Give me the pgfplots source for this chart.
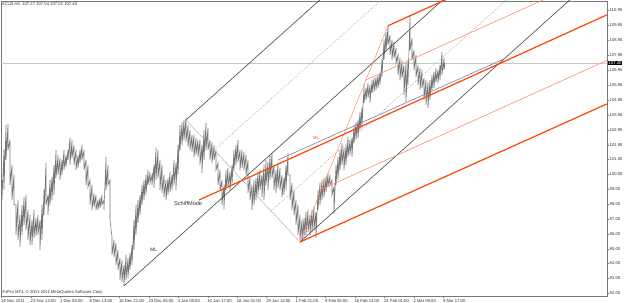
\documentclass[border=0pt]{standalone}
\usepackage{fontspec}
\setmainfont{Liberation Sans}
\usepackage{pgfplots}
\pgfplotsset{compat=1.18}
\definecolor{pricegray}{RGB}{118,118,118}
\definecolor{forkgray}{RGB}{70,70,70}
\definecolor{schiff}{RGB}{255,69,0}
\definecolor{schifflight}{RGB}{255,140,105}
\definecolor{mlblue}{RGB}{105,105,175}
\definecolor{dotgray}{RGB}{165,165,165}
\definecolor{framegray}{RGB}{120,120,120}
\definecolor{lightline}{RGB}{200,200,200}
\definecolor{txt}{RGB}{50,50,50}
\newcommand{\mtfont}{\fontsize{4.2}{5}\selectfont}
\begin{document}
\begin{tikzpicture}
\useasboundingbox (-1pt,-7pt) rectangle (624pt,296pt);
\begin{axis}[
 at={(0,0)}, anchor=south west,
 width=606pt, height=295pt, scale only axis,
 xmin=1, xmax=607, ymin=91.88, ymax=111.55,
 clip mode=individual,
 axis line style={framegray, line width=0.6pt},
 tick align=outside, xtick pos=lower, ytick pos=right,
 major tick length=2pt,
 tick style={framegray, line width=0.4pt},
 xtick={1.5,31,60.4,89.9,119.3,148.8,178.2,207.7,237.1,266.6,296,325.5,354.9,384.4,413.8,443.3},
 xticklabels={16 Nov 2011,23 Nov 13:00,1 Dec 05:00,8 Dec 13:00,15 Dec 21:00,23 Dec 05:00,3 Jan 09:00,10 Jan 17:00,18 Jan 01:00,25 Jan 13:00,1 Feb 21:00,9 Feb 05:00,16 Feb 13:00,24 Feb 01:00,2 Mar 09:00,9 Mar 17:00},
 xticklabel style={anchor=north west, inner sep=0pt, xshift=-0.5pt, yshift=-1pt, font=\mtfont, text=txt},
 ytick={110.95,109.95,108.95,107.95,106.95,105.95,104.95,103.95,102.95,101.95,101.00,100.00,99.00,98.00,97.00,96.00,95.00,94.05,93.05,92.05},
 yticklabel pos=right,
 yticklabel style={anchor=west, inner sep=0pt, xshift=0.5pt, font=\mtfont, text=txt,
   /pgf/number format/fixed, /pgf/number format/fixed zerofill, /pgf/number format/precision=2},
 /pgf/number format/assume math mode=true,
]
% current price line
\addplot[lightline, line width=0.4pt] coordinates {(1,107.40) (607,107.40)};
% price bars (high, low per column)
\addplot[pricegray, line width=0.55pt] coordinates {
(2,99.62) (2,98.28) (4,101.62) (4,98.95) (6,103.28) (6,100.95) (8,103.35) (8,101.62)
(10,102.28) (10,99.28) (12,100.62) (12,98.28) (14,99.95) (14,97.95) (16,97.95) (16,95.95)
(18,98.28) (18,95.62) (20,97.28) (20,95.15) (22,97.95) (22,95.95) (24,98.48) (24,96.62)
(26,98.62) (26,96.28) (28,97.62) (28,95.62) (30,97.28) (30,95.28) (32,96.95) (32,95.28)
(34,97.62) (34,95.75) (36,97.08) (36,95.88) (38,97.28) (38,95.95) (40,96.95) (40,94.95)
(42,97.95) (42,95.62) (44,98.95) (44,97.28) (46,100.75) (46,97.95) (48,98.62) (48,97.28)
(50,99.62) (50,97.95) (52,99.82) (52,98.28) (54,100.62) (54,98.62) (56,101.62) (56,99.75)
(58,101.28) (58,99.95) (60,101.08) (60,99.62) (62,100.95) (62,99.95) (64,101.62) (64,100.28)
(66,101.28) (66,100.48) (68,101.62) (68,100.95) (70,102.42) (70,100.62) (72,102.28) (72,101.08)
(74,101.95) (74,100.62) (76,101.62) (76,100.28) (78,101.28) (78,100.42) (80,101.62) (80,100.75)
(82,101.95) (82,100.95) (84,101.62) (84,100.28) (86,100.95) (86,99.28) (88,100.62) (88,99.15)
(90,99.62) (90,97.95) (92,99.28) (92,97.62) (94,98.75) (94,97.82) (96,98.62) (96,97.62)
(98,98.28) (98,97.62) (100,98.42) (100,97.75) (102,98.62) (102,97.95) (104,98.28) (104,97.62)
(106,101.15) (106,98.95) (108,100.62) (108,99.28) (110,99.62) (110,96.95) (112,95.82) (112,94.62)
(114,95.62) (114,94.48) (116,95.42) (116,93.95) (118,94.95) (118,93.62) (120,94.42) (120,92.95)
(122,94.28) (122,92.82) (124,93.95) (124,92.55) (126,94.62) (126,92.95) (128,94.42) (128,93.08)
(130,94.75) (130,93.62) (132,95.28) (132,93.95) (134,96.95) (134,94.95) (136,97.95) (136,95.95)
(138,98.28) (138,96.75) (140,98.62) (140,97.28) (142,99.28) (142,97.95) (144,99.62) (144,98.28)
(146,99.95) (146,98.62) (148,100.28) (148,99.28) (150,100.15) (150,99.42) (152,99.95) (152,99.28)
(154,100.62) (154,99.08) (156,101.75) (156,99.62) (158,101.62) (158,99.75) (160,100.95) (160,98.95)
(162,100.62) (162,98.75) (164,99.95) (164,98.48) (166,99.62) (166,98.28) (168,99.75) (168,98.62)
(170,100.15) (170,98.82) (172,99.95) (172,98.95) (174,100.95) (174,99.28) (176,100.75) (176,98.95)
(178,101.95) (178,99.95) (180,103.28) (180,101.62) (182,103.48) (182,101.95) (184,103.62) (184,102.28)
(186,103.75) (186,102.15) (188,103.28) (188,101.82) (190,102.95) (190,101.62) (192,102.62) (192,101.48)
(194,102.62) (194,101.15) (196,102.42) (196,101.28) (198,102.28) (198,101.15) (200,102.28) (200,100.62)
(202,101.95) (202,100.08) (204,102.95) (204,100.95) (206,103.42) (206,101.62) (208,103.08) (208,101.62)
(210,102.28) (210,100.95) (212,102.15) (212,100.75) (214,101.95) (214,100.95) (216,101.62) (216,100.28)
(218,100.75) (218,99.28) (220,100.28) (220,98.95) (222,99.62) (222,97.95) (224,99.28) (224,97.68)
(226,100.28) (226,98.95) (228,100.42) (228,99.08) (230,100.15) (230,98.95) (232,100.62) (232,99.28)
(234,101.62) (234,100.28) (236,101.95) (236,100.62) (238,102.28) (238,100.82) (240,101.62) (240,100.28)
(242,101.62) (242,100.42) (244,101.48) (244,100.28) (246,101.28) (246,99.95) (248,100.95) (248,98.75)
(250,99.82) (250,98.28) (252,99.28) (252,97.62) (254,99.62) (254,97.95) (256,99.75) (256,98.28)
(258,100.15) (258,98.62) (260,100.28) (260,98.95) (262,99.95) (262,98.48) (264,100.62) (264,98.28)
(266,100.95) (266,99.28) (268,100.82) (268,98.95) (270,101.28) (270,99.62) (272,101.42) (272,99.75)
(274,100.62) (274,98.95) (276,100.28) (276,98.75) (278,100.75) (278,99.08) (280,100.42) (280,98.95)
(282,99.95) (282,98.48) (284,99.75) (284,98.62) (286,100.62) (286,98.95) (288,101.42) (288,99.95)
(290,99.95) (290,98.28) (292,99.42) (292,97.62) (294,98.95) (294,97.28) (296,98.28) (296,96.62)
(298,97.95) (298,95.95) (300,97.28) (300,95.62) (302,96.95) (302,95.48) (304,97.08) (304,95.75)
(306,97.48) (306,95.95) (308,97.62) (308,96.15) (310,97.28) (310,95.95) (312,97.62) (312,96.15)
(314,97.82) (314,96.28) (316,97.48) (316,95.75) (318,98.95) (318,97.62) (320,99.42) (320,97.95)
(322,99.62) (322,98.28) (324,99.75) (324,98.48) (326,99.82) (326,98.82) (328,100.08) (328,99.15)
(330,99.95) (330,99.28) (332,99.62) (332,98.62) (334,99.15) (334,97.35) (336,100.62) (336,99.28)
(338,101.15) (338,99.62) (340,101.62) (340,100.28) (342,102.08) (342,100.62) (344,101.75) (344,100.28)
(346,101.95) (346,100.62) (348,102.48) (348,101.15) (350,102.28) (350,101.28) (352,102.42) (352,101.15)
(354,103.28) (354,102.08) (356,103.48) (356,102.28) (358,103.62) (358,102.42) (360,104.15) (360,102.95)
(362,104.42) (362,103.08) (364,105.95) (364,104.75) (366,105.75) (366,104.95) (368,106.08) (368,105.08)
(370,105.95) (370,104.75) (372,106.28) (372,105.42) (374,106.42) (374,105.48) (376,106.48) (376,105.62)
(378,106.62) (378,105.75) (380,106.75) (380,105.95) (382,107.62) (382,106.48) (384,108.95) (384,107.62)
(386,109.48) (386,108.15) (388,109.88) (388,108.62) (390,109.28) (390,107.95) (392,108.95) (392,107.62)
(394,108.82) (394,107.75) (396,108.42) (396,107.42) (398,107.95) (398,106.62) (400,107.75) (400,106.28)
(402,107.62) (402,106.42) (404,107.28) (404,105.28) (406,107.42) (406,104.82) (408,107.62) (408,105.95)
(410,110.62) (410,108.28) (412,109.08) (412,107.62) (414,108.28) (414,106.95) (416,107.95) (416,106.48)
(418,107.28) (418,105.95) (420,107.08) (420,105.62) (422,106.95) (422,105.75) (424,106.42) (424,104.95)
(426,106.28) (426,104.62) (428,106.15) (428,104.42) (430,106.28) (430,104.95) (432,106.62) (432,105.62)
(434,106.82) (434,105.75) (436,107.08) (436,106.15) (438,106.95) (438,106.08) (440,107.28) (440,106.28)
(442,108.15) (442,106.62) (444,107.75) (444,106.95) (445,107.40)
};
% Andrews pitchfork (gray)
\addplot[forkgray, line width=0.6pt] coordinates {(124,92.55) (460,112.65)};
\addplot[forkgray, line width=0.6pt] coordinates {(186,103.62) (330,112.23)};
\addplot[forkgray, line width=0.6pt] coordinates {(300,95.48) (580,112.23)};
\addplot[dotgray, line width=0.5pt, dash pattern=on 1pt off 1.2pt] coordinates {(214,101.61) (390,112.14)};
\addplot[dotgray, line width=0.5pt, dash pattern=on 1pt off 1.2pt] coordinates {(271,97.54) (520,112.43)};
\addplot[dotgray, line width=0.4pt] coordinates {(186,103.62) (300,95.48)};
% Schiff modified pitchfork (orange)
\addplot[schifflight, line width=0.5pt] coordinates {(300,95.48) (388,109.90)};
\addplot[schifflight, line width=0.6pt] coordinates {(365.7,106.28) (560,112.13)};
\addplot[schifflight, line width=0.6pt] coordinates {(321.3,98.99) (607,107.59)};
\addplot[mlblue, line width=0.5pt] coordinates {(278,100.95) (505,107.72)};
\addplot[schiff, line width=1.2pt] coordinates {(199,98.28) (607,110.63)};
\addplot[schiff, line width=1.2pt] coordinates {(300,95.48) (607,104.69)};
\addplot[schiff, line width=1.2pt] coordinates {(388,109.90) (450,111.77)};
% texts
\node[anchor=west, inner sep=0pt, font=\mtfont, text=txt] at (axis cs:2,111.30) {\#CL2I,H4\ \ 107.27 107.54 107.01 107.40};
\node[anchor=west, inner sep=0pt, font=\mtfont, text=txt] at (axis cs:2.5,92.15) {FxPro MT4, © 2001-2011 MetaQuotes Software Corp.};
\node[anchor=west, inner sep=0pt, font=\fontsize{5.6}{6}\selectfont, text=txt] at (axis cs:174,98.02) {SchiffMode};
\node[anchor=west, inner sep=0pt, font=\fontsize{5}{6}\selectfont, text=txt] at (axis cs:150,94.95) {ML};
\node[anchor=west, inner sep=0pt, font=\fontsize{4.2}{5}\selectfont, text=schiff] at (axis cs:313,102.42) {ML};
\node[anchor=west, fill=black, text=white, inner sep=0.5pt, font=\mtfont] at (axis cs:608,107.40) {107.40};
\end{axis}
\end{tikzpicture}
\end{document}
